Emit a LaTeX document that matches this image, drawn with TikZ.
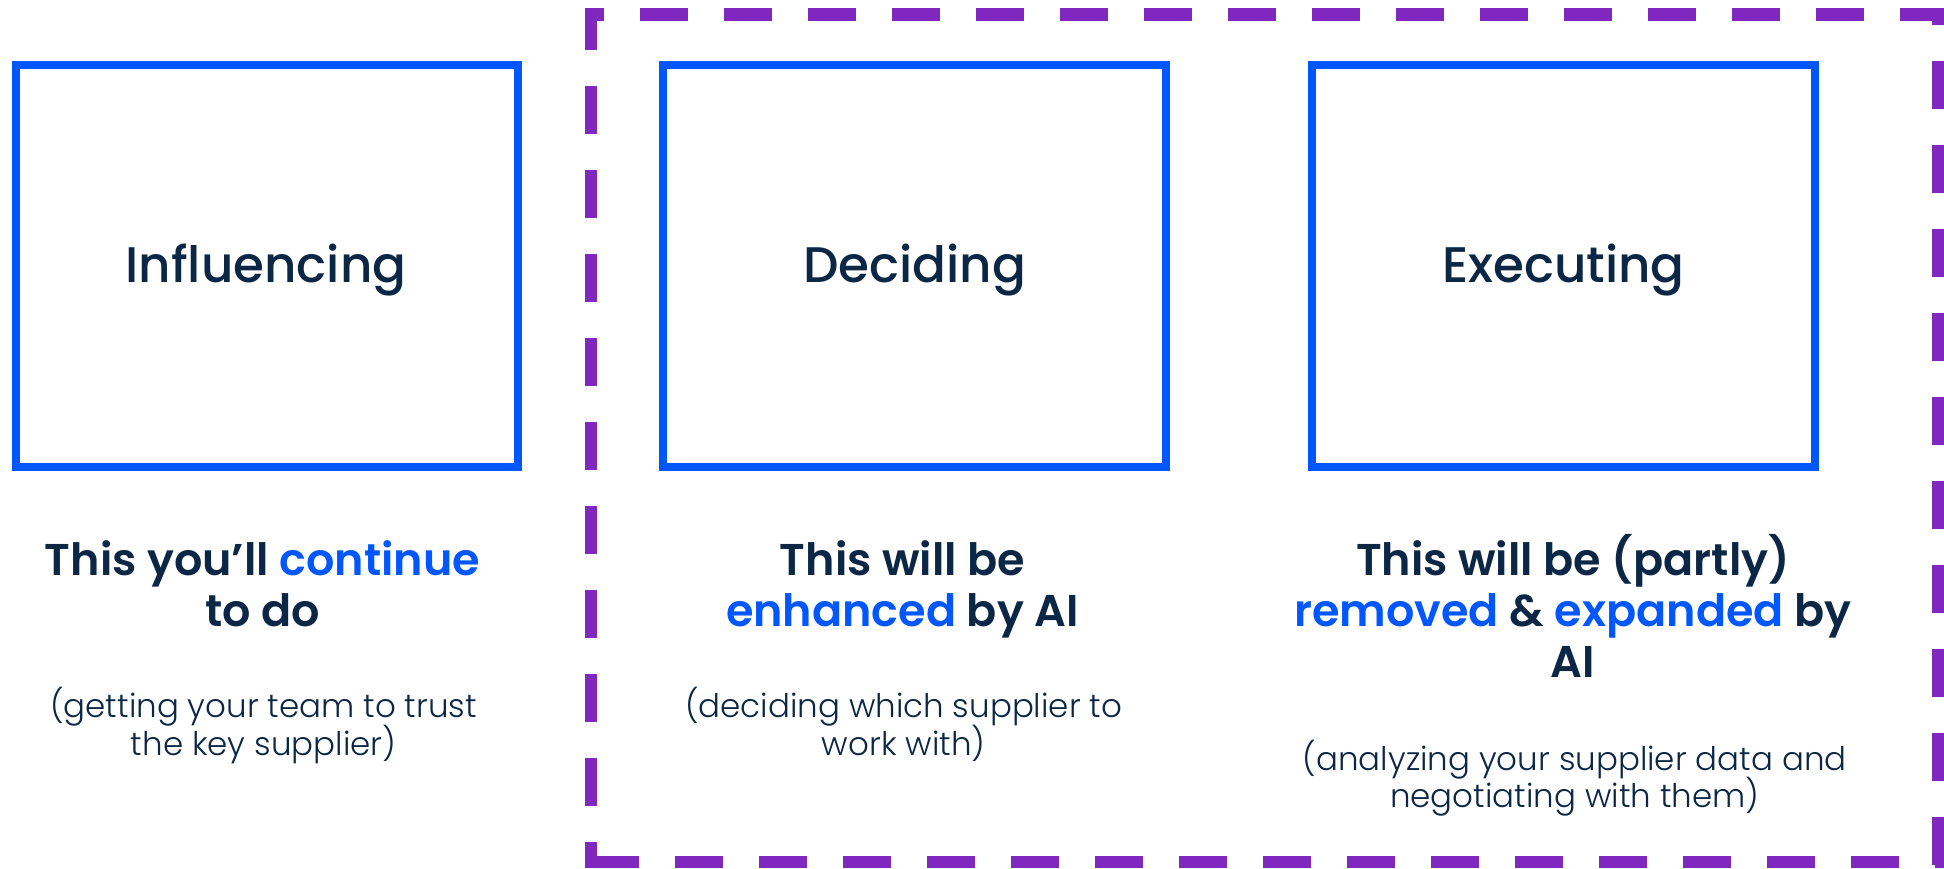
\documentclass[tikz,border=0pt]{standalone}
\usepackage{fontspec}
\setmainfont{Poppins}
\newfontfamily\medfont{Poppins Medium}
\newfontfamily\semifont{Poppins SemiBold}
\newfontfamily\lightfont{Poppins Light}
\definecolor{navy}{HTML}{0B2745}
\definecolor{hblue}{HTML}{0057FF}
\definecolor{violet}{HTML}{7F27BF}
\begin{document}
\begin{tikzpicture}[x=1pt,y=-1pt,
  card/.style={draw=hblue,line width=8pt,inner sep=0pt,outer sep=0pt},
  frameline/.style={draw=violet,line width=12.5pt,dash pattern=on 48pt off 36pt},
  title/.style={anchor=base,inner sep=0pt,text=navy,font=\medfont\fontsize{50}{55}\selectfont},
  head/.style={anchor=base,inner sep=0pt,text=navy,font=\semifont\fontsize{44.5}{51}\selectfont},
  note/.style={anchor=base,inner sep=0pt,text=navy,font=\lightfont\fontsize{32.5}{38}\selectfont},
  hl/.style={text=hblue}]
\useasboundingbox (0,0) rectangle (1944,868);

% dashed frame
\draw[frameline, dash phase=29pt] (585,14.5) -- (1944,14.5);
\draw[frameline, dash phase=6.3pt] (591,8) -- (591,868);
\draw[frameline, dash phase=31.5pt] (1938,8) -- (1938,868);
\draw[frameline, dash phase=78pt] (585,862) -- (1944,862);

% cards
\node[card, minimum width=502pt, minimum height=401.7pt] (box1) at (266.5,265.85) {};
\node[card, minimum width=503pt, minimum height=401.7pt] (box2) at (914.5,265.85) {};
\node[card, minimum width=503pt, minimum height=401.7pt] (box3) at (1563.5,265.85) {};

\node[title] (t1) at (266,282.7) {Influencing};
\node[title] (t2) at (914.5,282.7) {Deciding};
\node[title] (t3) at (1563.3,282.7) {Executing};

% headlines
\node[head] (h1a) at (262.5,575) {This you’ll \textcolor{hblue}{continue}};
\node[head] (h1b) at (262.5,626) {to do};
\node[head] (h2a) at (902.5,575) {This will be};
\node[head] (h2b) at (902.5,626.7) {\textcolor{hblue}{enhanced} by AI};
\node[head] (h3a) at (1573,575) {This will be (partly)};
\node[head] (h3b) at (1573,626.7) {\textcolor{hblue}{removed} \& \textcolor{hblue}{expanded} by};
\node[head] (h3c) at (1573,677.7) {AI};

% notes
\node[note] (n1a) at (263.5,717.7) {(getting your team to trust};
\node[note] (n1b) at (263.5,755.7) {the key supplier)};
\node[note] (n2a) at (903.6,717.7) {(deciding which supplier to};
\node[note] (n2b) at (903.6,755) {work with)};
\node[note] (n3a) at (1574.7,770) {(analyzing your supplier data and};
\node[note] (n3b) at (1574.7,807.7) {negotiating with them)};
\end{tikzpicture}
\end{document}
